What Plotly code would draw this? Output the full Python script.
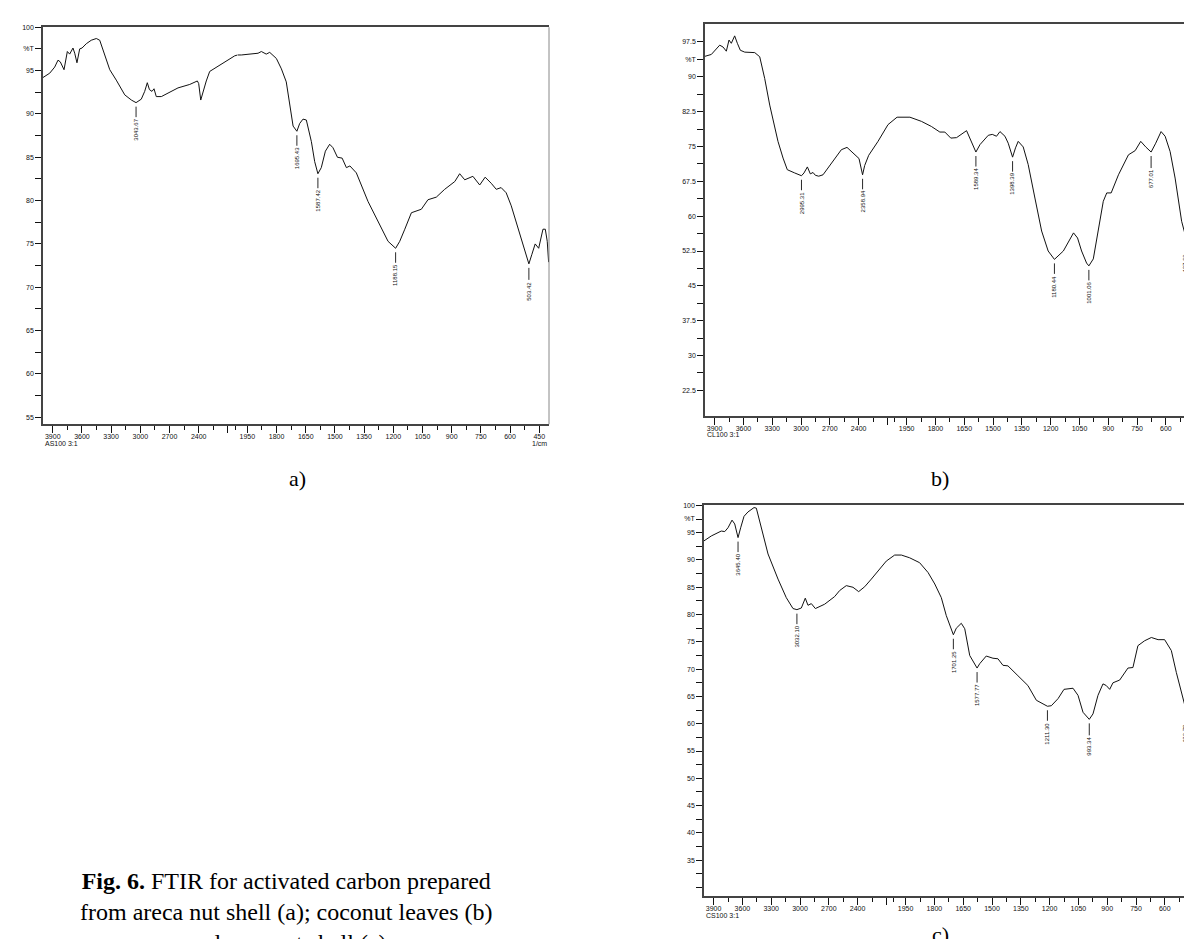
import plotly.graph_objects as go

W, H = 1192, 939

# ---------------- data (wavenumber 1/cm, %T) ----------------
a_wn = [4000, 3931, 3880, 3846, 3822, 3784, 3750, 3726, 3692, 3674, 3651, 3623, 3599, 3555, 3504,
        3452, 3417, 3366, 3314, 3247, 3160, 3092, 3043.67, 2990, 2955, 2928, 2906, 2880, 2859, 2836,
        2784, 2613, 2492, 2414, 2400, 2379, 2356, 2322, 2287, 2219, 2133, 2030, 2000, 1981, 1895,
        1878, 1853, 1835, 1801, 1775, 1750, 1727, 1715, 1695.43, 1681, 1664, 1647, 1621, 1604,
        1587.42, 1570, 1549, 1527, 1510, 1487, 1463, 1441, 1423, 1390, 1330, 1278, 1227, 1188.15,
        1167, 1141, 1107, 1056, 1022, 979, 936, 884, 859, 833, 791, 756, 728, 697, 671, 646, 620,
        594, 560, 525, 503.42, 488, 471, 453, 431, 419, 409, 402]
a_t = [94.2, 94.7, 95.4, 96.2, 96.0, 95.1, 97.2, 96.9, 97.6, 97.0, 95.9, 97.5, 97.6, 98.1, 98.5,
       98.7, 98.5, 96.8, 95.1, 93.9, 92.2, 91.6, 91.3, 91.7, 92.6, 93.6, 92.8, 92.6, 92.9, 92.0,
       92.0, 93.0, 93.4, 93.8, 93.5, 91.6, 92.6, 93.8, 94.9, 95.4, 96.0, 96.7, 96.8, 96.8, 97.0,
       97.2, 96.9, 97.1, 96.4, 95.2, 93.7, 90.3, 88.6, 88.0, 88.9, 89.4, 89.3, 86.8, 84.5,
       83.1, 83.8, 85.7, 86.5, 86.1, 85.0, 84.9, 83.8, 84.0, 83.2, 79.9, 77.6, 75.3, 74.5,
       75.3, 76.7, 78.6, 79.0, 80.1, 80.4, 81.3, 82.2, 83.1, 82.4, 82.8, 81.8, 82.7, 82.0, 81.3, 81.5, 80.9,
       79.4, 76.9, 74.2, 72.7, 73.8, 75.0, 74.5, 76.7, 76.7, 75.3, 72.9]
a_peak_wn = [3043.67, 1695.43, 1587.42, 1188.15, 503.42]
a_peak_t = [91.3, 88.0, 83.1, 74.5, 72.7]
a_peak_txt = ["3043.67", "1695.43", "1587.42", "1188.15", "503.42"]

b_wn = [4000, 3934, 3847, 3812, 3778, 3750, 3726, 3691, 3663, 3632, 3586, 3482, 3430, 3378, 3326,
        3240, 3187, 3143, 3066, 2995.31, 2969, 2934, 2903, 2875, 2851, 2816, 2771, 2649, 2580, 2521,
        2458, 2396, 2358.94, 2337, 2295, 2198, 2094, 2000, 1933, 1873, 1821, 1777, 1751, 1720, 1690,
        1638, 1612, 1589.34, 1568, 1525, 1504, 1482, 1464, 1438, 1421, 1398.39, 1383, 1369, 1343,
        1317, 1282, 1247, 1213, 1180.44, 1134, 1107, 1081, 1060, 1039, 1013, 1001.06, 978, 952, 926,
        908, 885, 847, 795, 760, 731, 705, 677.01, 653, 625, 604, 578, 552, 518, 497.63, 474, 457,
        434, 422]
b_t = [94.4, 94.8, 96.8, 96.4, 95.5, 97.9, 97.2, 98.8, 97.2, 95.7, 95.3, 95.2, 94.3, 89.6, 83.9,
       76.1, 72.5, 70.0, 69.3, 68.7, 69.3, 70.6, 69.1, 69.4, 68.8, 68.6, 68.9, 72.2, 74.3, 74.8,
       73.6, 72.4, 68.9, 70.9, 73.1, 76.1, 79.7, 81.3, 81.3, 80.4, 79.3, 78.1, 78.1, 76.8, 76.9,
       78.4, 76.1, 73.8, 75.4, 77.4, 77.6, 77.2, 78.2, 77.2, 75.7, 72.7, 74.7, 76.1, 74.9,
       71.1, 63.9, 56.8, 52.5, 50.7, 52.5, 54.6, 56.4, 55.3, 52.5, 49.9, 49.3, 50.8, 57.5, 63.2,
       65.0, 65.0, 68.9, 73.2, 74.1, 76.1, 74.9, 73.8, 75.7, 78.2, 77.2, 73.9, 68.2, 58.9, 55.7, 61.1, 65.4,
       70.0, 69.9]
b_peak_wn = [2995.31, 2358.94, 1589.34, 1398.39, 1180.44, 1001.06, 677.01, 497.63]
b_peak_t = [68.7, 68.9, 73.8, 72.7, 50.7, 49.3, 73.8, 55.7]
b_peak_txt = ["2995.31", "2358.94", "1589.34", "1398.39", "1180.44", "1001.06", "677.01", "497.63"]

c_wn = [4000, 3924, 3820, 3784, 3750, 3708, 3680, 3645.40, 3618, 3583, 3542, 3479, 3455, 3403, 3333,
        3229, 3143, 3073, 3032.10, 2986, 2945, 2917, 2882, 2840, 2743, 2639, 2587, 2518, 2448, 2389,
        2326, 2257, 2170, 2101, 2014, 2000, 1972, 1929, 1877, 1833, 1798, 1764, 1738, 1701.25, 1686,
        1660, 1642, 1616, 1577.77, 1564, 1530, 1495, 1469, 1443, 1417, 1365, 1313, 1269, 1211.30,
        1191, 1156, 1125, 1078, 1052, 1026, 993.34, 974, 948, 922, 905, 887, 870, 835, 792, 766, 740,
        705, 670, 635, 601, 566, 540, 493.78, 488, 470, 448, 436, 418]
c_t = [93.5, 94.4, 95.3, 95.2, 95.9, 97.3, 96.6, 94.1, 95.9, 98.0, 98.8, 99.6, 99.5, 95.9, 91.1,
       86.5, 83.1, 81.1, 80.9, 81.2, 83.0, 81.7, 82.0, 81.1, 81.9, 83.3, 84.4, 85.3, 85.0, 84.2,
       85.1, 86.5, 88.3, 89.8, 90.9, 90.9, 90.9, 90.4, 89.5, 87.7, 85.6, 83.1, 79.8, 76.3, 77.5,
       78.4, 77.4, 72.5, 70.2, 71.0, 72.4, 72.0, 71.9, 70.7, 70.6, 68.8, 67.0, 64.3, 63.2,
       63.3, 64.6, 66.3, 66.5, 65.2, 62.1, 60.8, 61.8, 65.2, 67.3, 67.0, 66.3, 67.5, 68.0, 70.2, 70.3, 74.3,
       75.2, 75.8, 75.4, 75.4, 73.4, 69.4, 63.1, 65.0, 70.7, 72.0, 71.9, 67.0]
c_peak_wn = [3645.40, 3032.10, 1701.25, 1577.77, 1211.30, 993.34, 493.78]
c_peak_t = [94.1, 80.9, 76.3, 70.2, 63.2, 60.8, 63.1]
c_peak_txt = ["3645.40", "3032.10", "1701.25", "1577.77", "1211.30", "993.34", "493.78"]

# tick values
hi_major = [3900, 3600, 3300, 3000, 2700, 2400, 2100]
hi_major_txt = ["3900", "3600", "3300", "3000", "2700", "2400", ""]
hi_minor = [3750, 3450, 3150, 2850, 2550, 2250, 2025]
lo_major = [1950, 1800, 1650, 1500, 1350, 1200, 1050, 900, 750, 600, 450]
lo_minor = [1875, 1725, 1575, 1425, 1275, 1125, 975, 825, 675, 525]

a_yticks = [55 + 2.5 * i for i in range(19)]
b_yticks = [22.5 + 3.75 * i for i in range(21)]
c_yticks = [30 + 2.5 * i for i in range(29)]


def ylabels(vals, step, pct_val):
    out = []
    for v in vals:
        if abs(v - pct_val) < 1e-6:
            out.append("%T")
        elif abs((v / step) - round(v / step)) < 1e-6:
            s = ("%.1f" % v).rstrip("0").rstrip(".")
            out.append(s)
        else:
            out.append("")
    return out


a_ytxt = ylabels(a_yticks, 5, 97.5)
b_ytxt = ylabels(b_yticks, 7.5, 93.75)
c_ytxt = [t if v >= 35 else "" for v, t in zip(c_yticks, ylabels(c_yticks, 5, 97.5))]

# ---------------- layout geometry (pixels) ----------------
panels = [
    dict(L=35, R=541, T=15.3, B=414, yr=[54.2, 100], yt=a_yticks, ytt=a_ytxt, full=True,
         wn=a_wn, t=a_t, pw=a_peak_wn, pt=a_peak_t, ptxt=a_peak_txt, tag="AS100 3:1", cap="a)", capx=289, capy=468),
    dict(L=697, R=1196.3, T=12.3, B=405.7, yr=[17.0, 101.3], yt=b_yticks, ytt=b_ytxt, full=False,
         wn=b_wn, t=b_t, pw=b_peak_wn, pt=b_peak_t, ptxt=b_peak_txt, tag="CL100 3:1", cap="b)", capx=932, capy=468),
    dict(L=696, R=1195.2, T=495.5, B=888, yr=[28.4, 100], yt=c_yticks, ytt=c_ytxt, full=False,
         wn=c_wn, t=c_t, pw=c_peak_wn, pt=c_peak_t, ptxt=c_peak_txt, tag="CS100 3:1", cap="c)", capx=932, capy=926),
]

fig = go.Figure()
shapes = []
annotations = []
tickfont = dict(family="Liberation Sans, Arial, sans-serif", size=7, color="#111")
axcol = "#444"

for i, p in enumerate(panels):
    xa_hi = "x%d" % (2 * i + 1) if i else "x"
    xa_lo = "x%d" % (2 * i + 2)
    ya = "y%d" % (i + 1) if i else "y"
    scale = (p["R"] - p["L"]) / 2600.0          # px per 1/cm in the 2000-400 region
    brk = p["L"] + 1000 * scale                  # 4000-2000 drawn at half scale
    vis_r = min(p["R"], W)
    lo_end = 2000 - (vis_r - brk) / scale

    hi_w = [w for w in p["wn"] if w >= 2000]
    hi_t = [v for w, v in zip(p["wn"], p["t"]) if w >= 2000]
    lo_w = [w for w in p["wn"] if w <= 2000]
    lo_t = [v for w, v in zip(p["wn"], p["t"]) if w <= 2000]
    line = dict(color="#111", width=1)
    fig.add_trace(go.Scatter(x=hi_w, y=hi_t, mode="lines", line=line, xaxis=xa_hi, yaxis=ya,
                             showlegend=False, hoverinfo="x+y"))
    fig.add_trace(go.Scatter(x=lo_w, y=lo_t, mode="lines", line=line, xaxis=xa_lo, yaxis=ya,
                             showlegend=False, hoverinfo="x+y"))

    common = dict(showgrid=False, zeroline=False, showline=True, linecolor=axcol, linewidth=1.5,
                  mirror=True, ticks="outside", ticklen=7, tickwidth=1, tickcolor="#111",
                  tickfont=tickfont, anchor=ya, tickmode="array", fixedrange=True,
                  ticklabelstandoff=-2)
    hi_key = "xaxis%d" % (2 * i + 1) if i else "xaxis"
    lo_key = "xaxis%d" % (2 * i + 2)
    fig.layout[hi_key] = dict(common, domain=[p["L"] / W, brk / W], range=[4000, 2000],
                              tickvals=hi_major, ticktext=hi_major_txt,
                              minor=dict(tickvals=hi_minor, ticks="outside", ticklen=4, tickcolor="#111"))
    fig.layout[lo_key] = dict(common, domain=[brk / W, vis_r / W], range=[2000, lo_end],
                              tickvals=lo_major, ticktext=[str(v) for v in lo_major],
                              minor=dict(tickvals=lo_minor, ticks="outside", ticklen=4, tickcolor="#111"))
    y_key = "yaxis%d" % (i + 1) if i else "yaxis"
    fig.layout[y_key] = dict(domain=[1 - p["B"] / H, 1 - p["T"] / H], range=p["yr"], anchor=xa_hi,
                             showgrid=False, zeroline=False, showline=True, linecolor=axcol, linewidth=1.5,
                             ticks="outside", ticklen=6, tickwidth=1, tickcolor="#111", tickfont=tickfont,
                             tickmode="array", tickvals=p["yt"], ticktext=p["ytt"], fixedrange=True)
    if p["full"]:
        shapes.append(dict(type="line", xref="paper", yref="paper", x0=p["R"] / W, x1=p["R"] / W,
                           y0=1 - p["B"] / H, y1=1 - p["T"] / H, line=dict(color="#888", width=1)))

    # peak labels
    for w, v, txt in zip(p["pw"], p["pt"], p["ptxt"]):
        annotations.append(dict(x=w, y=v, xref=xa_hi if w >= 2000 else xa_lo, yref=ya, text=txt,
                                textangle=-90, showarrow=True, arrowhead=0, arrowwidth=0.9,
                                arrowcolor="#111", ax=0, ay=27, standoff=4,
                                font=dict(family="Liberation Sans, Arial, sans-serif", size=6, color="#111")))
    # sample tag and unit
    tag_y = 1 - (p["B"] + 19) / H
    annotations.append(dict(x=p["L"] / W, y=tag_y, xref="paper", yref="paper",
                            text=p["tag"], showarrow=False, xanchor="left", yanchor="middle",
                            font=tickfont))
    ux = (p["L"] + (2000 - 450) * scale + 1000 * scale) / W
    annotations.append(dict(x=ux, y=tag_y, xref="paper", yref="paper",
                            text="1/cm", showarrow=False, xanchor="center", yanchor="middle",
                            font=tickfont))
    annotations.append(dict(x=p["capx"] / W, y=1 - p["capy"] / H, xref="paper", yref="paper",
                            text=p["cap"], showarrow=False, xanchor="center", yanchor="middle",
                            font=dict(family="Liberation Serif, Times New Roman, serif", size=22, color="#000")))

annotations.append(dict(x=278 / W, y=1 - 904 / H, xref="paper", yref="paper",
                        text="<b>Fig. 6.</b> FTIR for activated carbon prepared<br>"
                             "from areca nut shell (a); coconut leaves (b)<br>and coconut shell (c)",
                        showarrow=False, xanchor="center", yanchor="middle", align="center",
                        font=dict(family="Liberation Serif, Times New Roman, serif", size=24, color="#000")))

fig.update_layout(width=W, height=H, margin=dict(l=0, r=0, t=0, b=0), paper_bgcolor="white",
                  plot_bgcolor="white", showlegend=False, shapes=shapes, annotations=annotations)

fig.write_html("out.html", config={"displayModeBar": False})
